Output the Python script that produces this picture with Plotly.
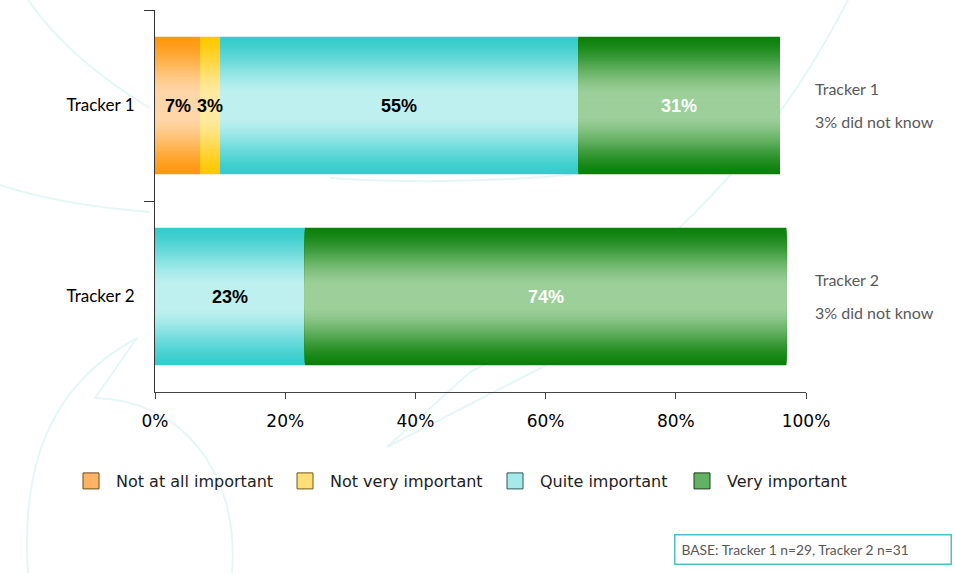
import plotly.graph_objects as go

# ---------------- data ----------------
trackers = ["Tracker 1", "Tracker 2"]
series_names = ["Not at all important", "Not very important", "Quite important", "Very important"]
not_at_all = [7, 0]
not_very = [3, 0]
quite = [55, 23]
very = [31, 74]
dont_know = [3, 3]
x_ticks = [0, 20, 40, 60, 80, 100]
x_tick_labels = ["0%", "20%", "40%", "60%", "80%", "100%"]
base_note = "BASE: Tracker 1 n=29, Tracker 2 n=31"

series_values = [not_at_all, not_very, quite, very]

# ---------------- styles ----------------
dark_cols = [(255, 152, 12), (255, 200, 0), (52, 204, 204), (10, 128, 10)]
light_cols = [(255, 214, 168), (255, 234, 160), (190, 240, 240), (156, 207, 153)]
legend_fill = ["#FFB366", "#FFDD77", "#A6E9E9", "#63B163"]
legend_line = ["#6B4A1A", "#6B5A1A", "#2F5656", "#1E3E1E"]
legend_left_px = [66, 280, 490, 677]
label_colors = ["black", "black", "black", "white"]

BAR_W = 0.72
N_LAYERS = 30

PL, PT, PW, PH = 155, 10, 651, 382  # plot area in page pixels
FIG_W, FIG_H = 955, 573


def mix(c1, c2, t):
    return "rgb(%d,%d,%d)" % tuple(round(a + (b - a) * t) for a, b in zip(c1, c2))


def ease(d):
    t = min(max((1 - d) / 0.8, 0.0), 1.0)
    s = t * t * (3 - 2 * t)
    return 0.5 * s + 0.5 * t


fig = go.Figure()

bases = []
running = [0] * len(trackers)
for vals in series_values:
    bases.append(list(running))
    running = [r + v for r, v in zip(running, vals)]

for si, vals in enumerate(series_values):
    for k in range(N_LAYERS):
        d = 1 - k / N_LAYERS
        fig.add_trace(go.Bar(
            y=trackers, x=vals, base=bases[si], orientation="h",
            width=BAR_W * d,
            marker=dict(color=mix(dark_cols[si], light_cols[si], ease(d)), line=dict(width=0)),
            showlegend=False, hoverinfo="skip",
        ))

legend_ids = ["legend", "legend2", "legend3", "legend4"]
for si, name in enumerate(series_names):
    fig.add_trace(go.Scatter(
        x=[None], y=[None], mode="markers", name=name, legend=legend_ids[si],
        marker=dict(symbol="square", size=16, color=legend_fill[si],
                    line=dict(color=legend_line[si], width=1)),
    ))


def px_x(x):
    return (x - PL) / PW


def px_y(y):
    return (PT + PH - y) / PH


annotations = []
for si, vals in enumerate(series_values):
    for ti, v in enumerate(vals):
        if v > 0:
            annotations.append(dict(
                x=bases[si][ti] + v / 2, y=trackers[ti], xref="x", yref="y",
                text="%d%%" % v, showarrow=False,
                font=dict(family="Liberation Sans, Arial", size=18, color=label_colors[si], weight="bold"),
            ))

for ti, t in enumerate(trackers):
    annotations.append(dict(x=px_x(813), y=t, xref="paper", yref="y", yshift=17,
                            xanchor="left", text=t, showarrow=False,
                            font=dict(family="Lato", size=16, color="#595959")))
    annotations.append(dict(x=px_x(813), y=t, xref="paper", yref="y", yshift=-16,
                            xanchor="left", text="%d%% did not know" % dont_know[ti], showarrow=False,
                            font=dict(family="Lato", size=16, color="#595959")))

annotations.append(dict(x=px_x(813), y=px_y(549), xref="paper", yref="paper",
                        xanchor="center", yanchor="middle", text=base_note, showarrow=False,
                        align="left", width=263, height=16, borderpad=6,
                        bordercolor="#4DC0C8", borderwidth=1.5,
                        font=dict(family="Lato", size=13.8, color="#595959")))


def P(x, y):
    return "%.4f,%.4f" % (px_x(x), px_y(y))


wm_paths = [
    "M %s Q %s %s L %s L %s" % (P(848, 0), P(720, 250), P(470, 372), P(387, 447), P(560, 358)),
    "M %s C %s %s %s" % (P(137, 338), P(60, 380), P(20, 450), P(28, 573)),
    "M %s L %s C %s %s %s" % (P(137, 338), P(95, 398), P(180, 400), P(240, 470), P(232, 573)),
    "M %s Q %s %s" % (P(28, 0), P(70, 60), P(150, 108)),
    "M %s Q %s %s" % (P(0, 185), P(60, 205), P(150, 212)),
    "M %s Q %s %s" % (P(330, 178), P(450, 186), P(580, 174)),
]
shapes = [dict(type="path", path=p, xref="paper", yref="paper", layer="below",
               line=dict(color="#E6F6F6", width=2)) for p in wm_paths]

legend_common = dict(orientation="h", xanchor="left", y=px_y(481), yanchor="middle",
                     itemwidth=40, font=dict(family="DejaVu Sans", size=16, color="#222222"),
                     bgcolor="rgba(0,0,0,0)")
legends = {lid: dict(legend_common, x=px_x(legend_left_px[i])) for i, lid in enumerate(legend_ids)}

fig.update_layout(
    width=FIG_W, height=FIG_H,
    margin=dict(l=PL, r=FIG_W - PL - PW, t=PT, b=FIG_H - PT - PH, pad=0),
    barmode="overlay",
    paper_bgcolor="white", plot_bgcolor="white",
    showlegend=True,
    annotations=annotations,
    shapes=shapes,
    xaxis=dict(range=[0, 100], tickvals=x_ticks, ticktext=x_tick_labels, showgrid=False, zeroline=False,
               showline=True, linecolor="#444444", linewidth=1.2, ticks="outside", ticklen=6,
               tickcolor="#444444", ticklabelstandoff=7,
               tickfont=dict(family="DejaVu Sans", size=17, color="black"), fixedrange=True),
    yaxis=dict(categoryorder="array", categoryarray=trackers, range=[1.5, -0.5],
               showgrid=False, zeroline=False, showline=True, linecolor="#333333", linewidth=1.2,
               ticks="outside", ticklen=10, tickcolor="#333333", tickson="boundaries",
               ticklabelstandoff=16,
               tickfont=dict(family="Lato", size=17, color="black"), fixedrange=True),
    **legends,
)

fig.write_html(
    "out.html",
    config={"displayModeBar": False},
    post_script="document.body.style.margin='0';document.body.style.overflow='hidden';",
)
